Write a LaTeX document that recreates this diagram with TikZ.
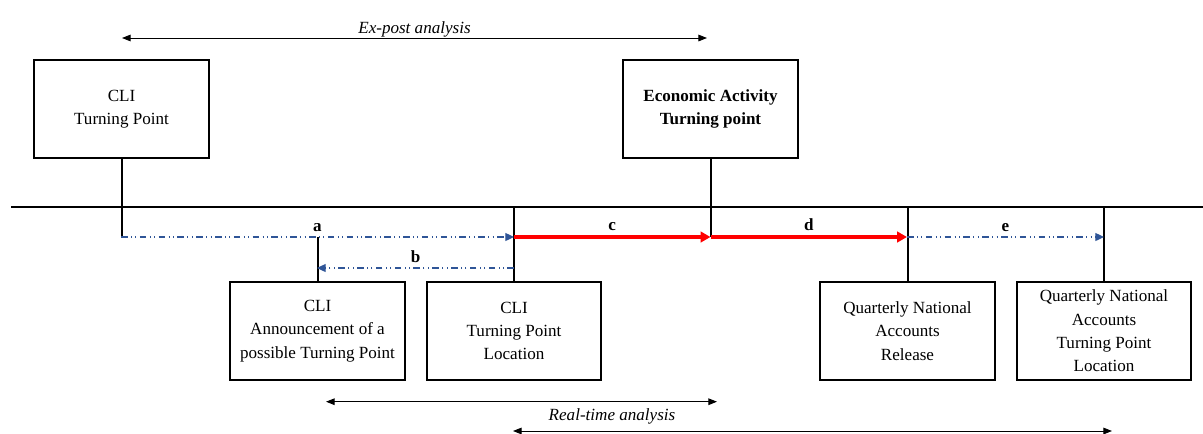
\documentclass[tikz,border=0pt]{standalone}
\usepackage{fontspec}
\setmainfont{Liberation Serif}
\usepackage{tikz}
\usetikzlibrary{arrows.meta}
\definecolor{dotblue}{RGB}{47,85,151}

\begin{document}
\begin{tikzpicture}[x=0.75pt,y=-0.75pt,
    every node/.style={font=\fontsize{12.8}{17.5}\selectfont},
    event/.style={draw,line width=1.5pt,minimum width=131pt,minimum height=73.5pt,
      align=center,inner sep=0pt},
    gap/.style={dotblue,line width=0.9pt,
      dash pattern=on 5pt off 2.5pt on 0.8pt off 2.5pt on 0.8pt off 2.5pt,
      -{Triangle[length=6.5pt,width=6pt]}},
    lag/.style={red,line width=2.6pt,-{Triangle[length=7.5pt,width=8pt]}},
    span/.style={line width=0.7pt,
      {Triangle[length=6.5pt,width=5pt]}-{Triangle[length=6.5pt,width=5pt]}},
    tick/.style={line width=1.5pt},
    letter/.style={midway,above=0pt,text=black,
      font=\fontsize{12.8}{17.5}\selectfont\bfseries}]
  \useasboundingbox (0,0) rectangle (1203,433);

  % time line
  \coordinate (tl) at (11,207);
  \coordinate (tr) at (1203,207);
  \draw[tick] (tl) -- (tr);

  % events above the line
  \node[event] (cli) at (121.5,109) {CLI\\Turning Point};
  \node[event,font=\fontsize{12.8}{17.5}\selectfont\bfseries] (eco) at (710.5,109)
    {Economic Activity\\Turning point};

  % events below the line
  \node[event] (ann) at (317.5,331) {CLI\\Announcement of a\\possible Turning Point};
  \node[event] (loc) at (514,331) {CLI\\Turning Point\\Location};
  \node[event] (qna) at (907.5,331) {Quarterly National\\Accounts\\Release};
  \node[event] (qtp) at (1104,331) {Quarterly National\\Accounts\\Turning Point\\Location};

  % points on the lag row
  \coordinate (pa) at (121,237);
  \coordinate (pb) at (514,237);
  \coordinate (pc) at (710.5,237);
  \coordinate (pd) at (907,237);
  \coordinate (pe) at (1104,237);
  \coordinate (qb) at (514,268);
  \coordinate (qa) at (317,268);

  \draw[tick] (cli.south) -- (cli.south |- pa);
  \draw[tick] (eco.south) -- (eco.south |- pc);
  \draw[tick] (ann.north) -- (ann.north |- pa);
  \draw[tick] (loc.north) -- (loc.north |- tl);
  \draw[tick] (qna.north) -- (qna.north |- tl);
  \draw[tick] (qtp.north) -- (qtp.north |- tl);

  \draw[gap] (pa) -- (pb) node[letter] {a};
  \draw[gap] (qb) -- (qa) node[letter] {b};
  \draw[lag] (pb) -- (pc) node[letter] {c};
  \draw[lag] (pc) -- (pd) node[letter] {d};
  \draw[gap] (pd) -- (pe) node[letter] {e};

  % analysis spans
  \coordinate (xl) at (122,38);
  \coordinate (xr) at (707,38);
  \draw[span] (xl) -- (xr) node[midway,above=-3pt] {\textit{Ex-post analysis}};
  \coordinate (rl) at (326,401.7);
  \coordinate (rr) at (717,401.7);
  \draw[span] (rl) -- (rr);
  \node (rt) at (612,416.7) {\textit{Real-time analysis}};
  \coordinate (sl) at (513,431);
  \coordinate (sr) at (1112,431);
  \draw[span] (sl) -- (sr);
\end{tikzpicture}
\end{document}
